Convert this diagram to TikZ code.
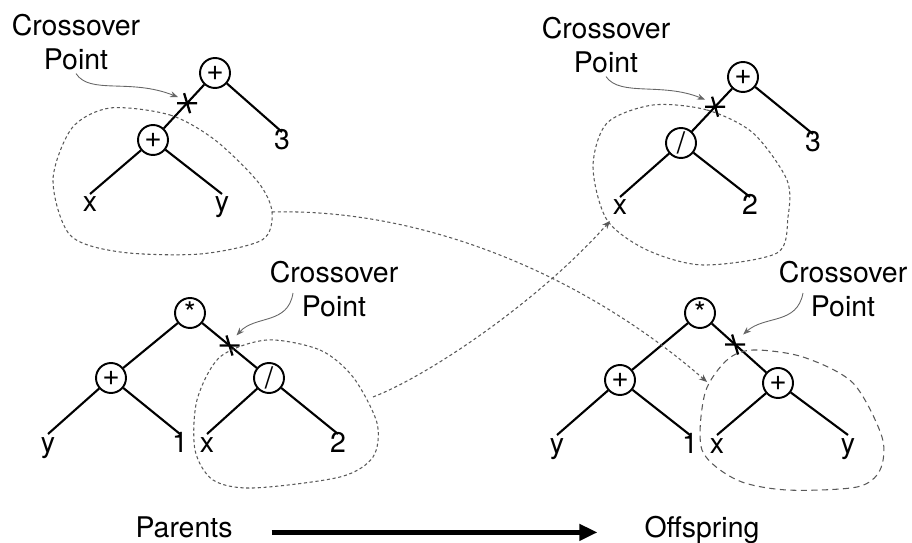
\documentclass[tikz,border=0pt]{standalone}
\usepackage{fontspec}
\setmainfont{TeX Gyre Heros}
\usetikzlibrary{
  arrows.meta,
  calc
}
\newcommand{\cutmark}[1]{%
  \draw[cut] ($(#1)+(-10,0)$) -- ($(#1)+(10,0)$)
             ($(#1)+(-3,-10)$) -- ($(#1)+(3,10)$);}

\begin{document}
\begin{tikzpicture}[
  x=0.02cm, y=-0.02cm,
  font=\fontsize{16.2}{19.2}\selectfont,
  op/.style={draw, circle, line width=1.1pt, minimum size=0.6cm, inner sep=0pt,
             font=\fontsize{17}{17}\selectfont},
  leaf/.style={inner sep=0.1cm, text height=0.72em, text depth=0.2em, anchor=base},
  branch/.style={line width=1.2pt},
  cut/.style={line width=1.3pt},
  lbl/.style={align=center, inner sep=2pt},
  swap/.style={black!65, line width=0.6pt, dash pattern=on 1.8pt off 1.5pt},
  swaptip/.style={swap, -{Stealth[length=1.6mm, width=1.3mm]}},
  pointer/.style={black!60, line width=0.5pt, -{Stealth[length=1.6mm, width=1.2mm]}},
  caption/.style={text height=0.72em, text depth=0.2em, anchor=base},
  bigarrow/.style={line width=2.6pt, -{Triangle[length=0.36cm, width=0.32cm]}}
]
\useasboundingbox (0,0) rectangle (912,543);

% Parent 1
\node[op] (p1root) at (215,73) {+};
\node[op] (p1plus) at (153,140) {+};
\node[leaf] (p1x) at (90,212) {x};
\node[leaf] (p1y) at (222,212) {y};
\node[leaf] (p1three) at (282,150) {3};
\draw[branch] (p1root) -- (p1plus);
\draw[branch] (p1root) -- (p1three.north);
\draw[branch] (p1plus) -- (p1x.north);
\draw[branch] (p1plus) -- (p1y.north);
\coordinate (p1cut) at ($(p1root)!0.45!(p1plus)$);
\cutmark{p1cut}
\node[lbl] (p1label) at (76,42) {Crossover\\Point};
\coordinate (p1tip) at ($(p1cut)+(-9,-6)$);
\draw[pointer] (p1label.south) .. controls (90,95) and (130,78) .. (p1tip);
\draw[swap] plot[smooth cycle] coordinates {(110,108) (170,115) (215,140) (258,182)
  (272,212) (262,240) (200,254) (120,252) (70,235) (53,180) (72,128)};
\coordinate (p1out) at (272,212);

% Parent 2
\node[op] (p2root) at (190,313) {*};
\node[op] (p2plus) at (111,378) {+};
\node[op] (p2div) at (269,378) {/};
\node[leaf] (p2y) at (48,452) {y};
\node[leaf] (p2one) at (180,452) {1};
\node[leaf] (p2x) at (207,452) {x};
\node[leaf] (p2two) at (338,452) {2};
\draw[branch] (p2root) -- (p2plus);
\draw[branch] (p2root) -- (p2div);
\draw[branch] (p2plus) -- (p2y.north);
\draw[branch] (p2plus) -- (p2one.north);
\draw[branch] (p2div) -- (p2x.north);
\draw[branch] (p2div) -- (p2two.north);
\coordinate (p2cut) at ($(p2root)!0.5!(p2div)$);
\cutmark{p2cut}
\node[lbl] (p2label) at (334,289) {Crossover\\Point};
\coordinate (p2tip) at ($(p2cut)+(7,-10)$);
\draw[pointer] ($(p2label)+(-41,4)$) .. controls (288,325) and (255,315) .. (p2tip);
\draw[swap] plot[smooth cycle] coordinates {(267,340) (320,350) (353,377) (377,423)
  (373,457) (340,477) (253,488) (213,480) (195,450) (197,400) (220,357)};
\coordinate (p2out) at (373,397);

% Offspring 1
\node[op] (o1root) at (743,77) {+};
\node[op] (o1div) at (681,143) {/};
\node[leaf] (o1x) at (620,215) {x};
\node[leaf] (o1two) at (750,215) {2};
\node[leaf] (o1three) at (813,152) {3};
\draw[branch] (o1root) -- (o1div);
\draw[branch] (o1root) -- (o1three.north);
\draw[branch] (o1div) -- (o1x.north);
\draw[branch] (o1div) -- (o1two.north);
\coordinate (o1cut) at ($(o1root)!0.45!(o1div)$);
\cutmark{o1cut}
\node[lbl] (o1label) at (606,45) {Crossover\\Point};
\coordinate (o1tip) at ($(o1cut)+(-10,-7)$);
\draw[pointer] (o1label.south) .. controls (620,97) and (662,82) .. (o1tip);
\draw[swap] plot[smooth cycle] coordinates {(653,105) (707,110) (753,133) (787,180)
  (788,217) (777,253) (703,265) (647,250) (607,220) (593,167) (607,123)};
\coordinate (o1in) at (610,221);

% Offspring 2
\node[op] (o2root) at (700,313) {*};
\node[op] (o2left) at (620,380) {+};
\node[op] (o2right) at (778,383) {+};
\node[leaf] (o2y) at (557,453) {y};
\node[leaf] (o2one) at (690,453) {1};
\node[leaf] (o2x) at (717,453) {x};
\node[leaf] (o2yy) at (848,453) {y};
\draw[branch] (o2root) -- (o2left);
\draw[branch] (o2root) -- (o2right);
\draw[branch] (o2left) -- (o2y.north);
\draw[branch] (o2left) -- (o2one.north);
\draw[branch] (o2right) -- (o2x.north);
\draw[branch] (o2right) -- (o2yy.north);
\coordinate (o2cut) at ($(o2root)!0.45!(o2right)$);
\cutmark{o2cut}
\node[lbl] (o2label) at (843,289) {Crossover\\Point};
\coordinate (o2tip) at ($(o2cut)+(8,-10)$);
\draw[pointer] ($(o2label)+(-40,4)$) .. controls (797,325) and (765,315) .. (o2tip);
\draw[black!65, line width=0.6pt, dash pattern=on 3.5pt off 2.5pt]
  plot[smooth cycle] coordinates {(753,350) (803,357) (853,383) (882,437)
  (880,470) (857,487) (787,490) (737,480) (702,450) (705,393) (727,360)};
\coordinate (o2in) at (707,382);

% Swapped subtrees
\draw[swaptip] (p1out) .. controls (430,208) and (590,280) .. (o2in);
\draw[swaptip] (p2out) .. controls (430,375) and (540,300) .. (o1in);

% Caption
\node[caption] (parents) at (184,537) {Parents};
\node[caption] (offspring) at (702,537) {Offspring};
\draw[bigarrow, shorten <=0.66cm, shorten >=0.82cm] (parents) -- (offspring);

\end{tikzpicture}
\end{document}
